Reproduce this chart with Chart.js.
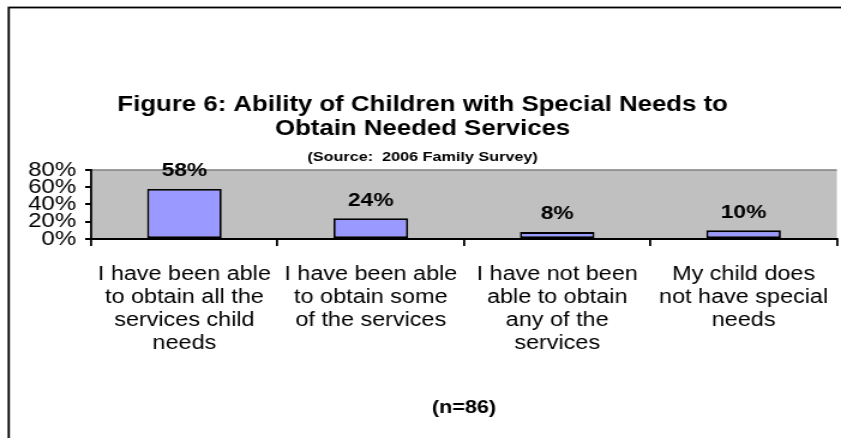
<!DOCTYPE html>
<html>
<head>
<meta charset="utf-8">
<title>Figure 6</title>
<script src="https://cdn.jsdelivr.net/npm/chart.js@4/dist/chart.umd.min.js"></script>
<style>
  html, body { margin: 0; padding: 0; background: #fff; }
  /* the figure is drawn narrow and stretched sideways, like the wide original */
  #chart { display: block; width: 841px !important; height: 438px !important; }
</style>
</head>
<body>
<canvas id="chart" width="701" height="438"></canvas>
<script>
// Survey answers (wrapped into lines) and their shares, %
const answers = [
    ['I have been able', 'to obtain all the', 'services child', 'needs'],
    ['I have been able', 'to obtain some', 'of the services'],
    ['I have not been', 'able to obtain', 'any of the', 'services'],
    ['My child does', 'not have special', 'needs']
];
const shares = [58, 24, 8, 10];

const titleLines = ['Figure 6: Ability of Children with Special Needs to', 'Obtain Needed Services'];
const sourceLine = '(Source:  2006 Family Survey)';
const sampleNote = '(n=86)';

const yTicks = [0, 20, 40, 60, 80];

const FONT = "'Liberation Sans', Arial, Helvetica, sans-serif";

// Frame around the whole figure + grey plot background
const frame = {
    id: 'frame',
    beforeDraw(chart) {
        const ctx = chart.ctx;
        const a = chart.chartArea;
        ctx.save();
        ctx.fillStyle = '#fff';
        ctx.fillRect(0, 0, chart.width, chart.height);
        ctx.strokeStyle = '#000';
        ctx.lineWidth = 1.8;
        ctx.strokeRect(7.3, 7.5, chart.width + 20, chart.height + 20);

        ctx.fillStyle = '#C0C0C0';
        ctx.fillRect(a.left, a.top, a.right - a.left, a.bottom - a.top);
        ctx.strokeStyle = '#808080';
        ctx.lineWidth = 1.5;
        ctx.beginPath();
        ctx.moveTo(a.left, a.top);
        ctx.lineTo(a.right, a.top);
        ctx.stroke();
        ctx.restore();
    }
};

// Percent labels above each bar
const barValues = {
    id: 'barValues',
    afterDatasetsDraw(chart) {
        const ctx = chart.ctx;
        const meta = chart.getDatasetMeta(0);
        ctx.save();
        ctx.font = 'bold 19px ' + FONT;
        ctx.fillStyle = '#000';
        ctx.textAlign = 'center';
        ctx.textBaseline = 'middle';
        meta.data.forEach((bar, i) => {
            ctx.fillText(shares[i] + '%', bar.x, bar.y - 18);
        });
        ctx.restore();
    }
};

new Chart(document.getElementById('chart'), {
    type: 'bar',
    data: {
        labels: answers,
        datasets: [{
            data: shares,
            backgroundColor: '#9999FF',
            borderColor: '#000',
            borderWidth: 1.8,
            borderSkipped: false,
            categoryPercentage: 1,
            barPercentage: 0.4
        }]
    },
    options: {
        responsive: false,
        devicePixelRatio: 1,
        animation: false,
        layout: { padding: { left: 7, right: 3.5, top: 0, bottom: 0 } },
        plugins: {
            legend: { display: false },
            tooltip: { enabled: false },
            title: {
                display: true,
                text: titleLines,
                color: '#000',
                font: { family: FONT, size: 21.5, weight: 'bold', lineHeight: 1.116 },
                padding: { top: 93, bottom: 0 }
            },
            subtitle: {
                display: true,
                text: sourceLine,
                color: '#000',
                font: { family: FONT, size: 13.5, weight: 'bold', lineHeight: 1.2 },
                padding: { top: 7.9, bottom: 4.9 }
            }
        },
        scales: {
            x: {
                offset: true,
                grid: {
                    offset: true,
                    drawOnChartArea: false,
                    drawTicks: true,
                    tickLength: 7,
                    color: '#000',
                    lineWidth: 1.8
                },
                border: { color: '#000', width: 2 },
                ticks: {
                    color: '#000',
                    padding: 17.5,
                    maxRotation: 0,
                    autoSkip: false,
                    font: { family: FONT, size: 19.5, lineHeight: 1.18 }
                },
                title: {
                    display: true,
                    text: sampleNote,
                    color: '#000',
                    font: { family: FONT, size: 18, weight: 'bold', lineHeight: 1.2 },
                    padding: { top: 0, bottom: 19.2 }
                },
                afterFit(scale) {
                    scale.height = 199;
                    scale.paddingLeft = 0;
                    scale.paddingRight = 0;
                }
            },
            y: {
                min: yTicks[0],
                max: yTicks[yTicks.length - 1],
                afterBuildTicks(scale) {
                    scale.ticks = yTicks.map(v => ({ value: v }));
                },
                grid: {
                    drawOnChartArea: false,
                    drawTicks: true,
                    tickLength: 5,
                    color: '#000',
                    lineWidth: 2
                },
                border: { color: '#000', width: 1.8 },
                ticks: {
                    autoSkip: false,
                    color: '#000',
                    padding: 7.5,
                    font: { family: FONT, size: 20, lineHeight: 1 },
                    callback: v => v + '%'
                },
                afterFit(scale) {
                    scale.width = 69;
                    scale.paddingTop = 0;
                    scale.paddingBottom = 0;
                }
            }
        }
    },
    plugins: [frame, barValues]
});
</script>
</body>
</html>
